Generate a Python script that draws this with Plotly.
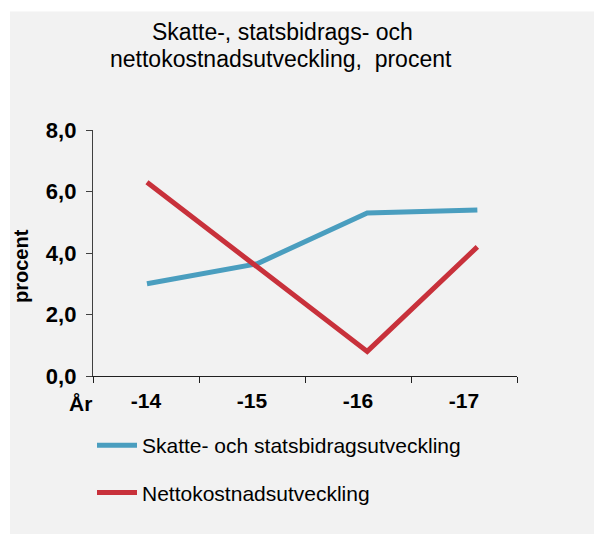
import plotly.graph_objects as go

years = ["-14", "-15", "-16", "-17"]
skatte = [3.0, 3.65, 5.3, 5.4]
netto = [6.3, 3.55, 0.8, 4.2]
series_names = ["Skatte- och statsbidragsutveckling", "Nettokostnadsutveckling"]
y_ticks = [0, 2, 4, 6, 8]

BLUE = "#4A9EBF"
RED = "#C8313B"
BG = "#F2F2F2"
FONT = "Liberation Sans, Arial, sans-serif"

fig = go.Figure()
# empty trace so the labelled category axis is drawn
fig.add_trace(go.Scatter(x=years, y=[None] * len(years), mode="lines",
                         showlegend=False, hoverinfo="skip"))
fig.add_trace(go.Scatter(x=years, y=skatte, mode="lines", name=series_names[0],
                         line=dict(color=BLUE, width=5), xaxis="x2",
                         legendgroup="a"))
fig.add_trace(go.Scatter(x=years, y=netto, mode="lines", name=series_names[1],
                         line=dict(color=RED, width=5), xaxis="x2",
                         legendgroup="b"))

# page is offset by the 8px body margin of the html page
L, T, W, H = 93.0, 130.0, 424.0, 246.0
def px(x):
    return (x - L) / W
def py(y):
    return (T + H - y) / H

fig.update_layout(
    width=594, height=526,
    margin=dict(l=85, r=85, t=122, b=158, autoexpand=False),
    paper_bgcolor="white", plot_bgcolor=BG,
    separators=", ",
    font=dict(family=FONT, color="black"),
    showlegend=True,
    legend=dict(x=px(92), y=py(425), xanchor="left", yanchor="top",
                xref="paper", yref="paper",
                font=dict(size=21, family=FONT), bgcolor="rgba(0,0,0,0)",
                tracegroupgap=17, itemwidth=40),
    xaxis=dict(type="category", categoryarray=years, range=[-0.5, 3.5],
               showline=True, linecolor="#202020", linewidth=1.3,
               ticks="outside", ticklen=6, tickcolor="#202020", tickson="boundaries",
               showgrid=False, zeroline=False,
               tickfont=dict(size=21, family=FONT, color="black", weight="bold"),
               ticklabelstandoff=6),
    xaxis2=dict(type="category", categoryarray=years, overlaying="x",
                range=[-0.49, 3.36], visible=False),
    yaxis=dict(range=[0, 8], tickvals=y_ticks, tickformat=".1f",
               showline=True, linecolor="#404040", linewidth=1.3,
               ticks="outside", ticklen=6, tickcolor="#404040",
               showgrid=False, zeroline=False,
               tickfont=dict(size=22, family=FONT, color="black", weight="bold"),
               ticklabelstandoff=5),
    shapes=[dict(type="rect", xref="paper", yref="paper",
                 x0=px(10), x1=px(640), y0=py(560), y1=py(11.5),
                 fillcolor=BG, line=dict(width=0), layer="below")],
    annotations=[
        dict(text="Skatte-, statsbidrags- och", xref="paper", yref="paper",
             x=px(282), y=py(47.5), xanchor="center", yanchor="bottom",
             showarrow=False, font=dict(size=23, family=FONT, color="black")),
        dict(text="nettokostnadsutveckling,  procent", xref="paper", yref="paper",
             x=px(281), y=py(74), xanchor="center", yanchor="bottom",
             showarrow=False, font=dict(size=23, family=FONT, color="black")),
        dict(text="<b>procent</b>", xref="paper", yref="paper",
             x=px(21), y=py(266), xanchor="center", yanchor="middle",
             textangle=-90, showarrow=False, borderpad=0,
             font=dict(size=20, family=FONT, color="black")),
        dict(text="<b>År</b>", xref="paper", yref="paper",
             x=px(94), y=py(403), xanchor="right", yanchor="middle",
             showarrow=False, font=dict(size=21, family=FONT, color="black")),
    ],
)

fig.write_html("out.html")
